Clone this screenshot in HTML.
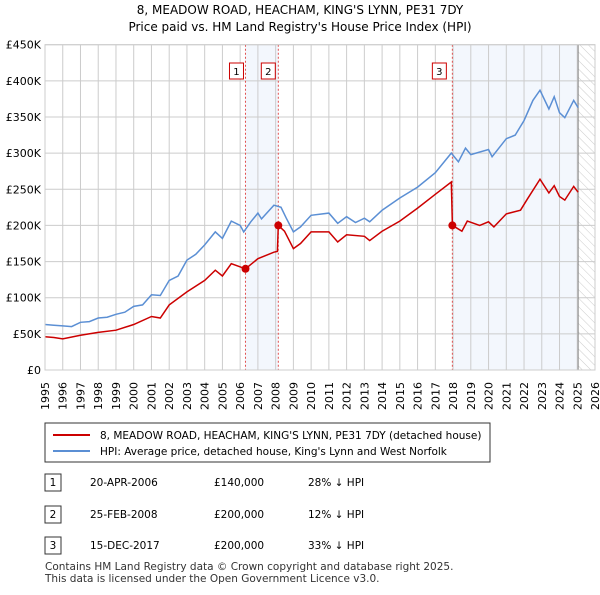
<!DOCTYPE html>
<html><head><meta charset="utf-8"><style>
body{margin:0;background:#fff;font-family:"Liberation Sans","DejaVu Sans",sans-serif;}
svg text{font-family:"DejaVu Sans","Liberation Sans",sans-serif;}
</style></head><body>
<svg id="c" width="600" height="590" viewBox="0 0 600 590">
<defs><pattern id="hatch" width="6" height="6" patternUnits="userSpaceOnUse" patternTransform="rotate(-45)"><line x1="0" y1="0" x2="0" y2="6" stroke="#ccc" stroke-width="1"/></pattern></defs>
<text x="300" y="14" text-anchor="middle" font-size="12">8, MEADOW ROAD, HEACHAM, KING'S LYNN, PE31 7DY</text>
<text x="300" y="31" text-anchor="middle" font-size="12">Price paid vs. HM Land Registry's House Price Index (HPI)</text>
<g id="plot"></g>
<g>
<rect x="45" y="423" width="445" height="39" fill="#fff" stroke="#333"/>
<line x1="53" y1="435" x2="90" y2="435" stroke="#cc0000" stroke-width="2"/>
<text x="100" y="439" font-size="10.5">8, MEADOW ROAD, HEACHAM, KING'S LYNN, PE31 7DY (detached house)</text>
<line x1="53" y1="451" x2="90" y2="451" stroke="#5b8fd4" stroke-width="2"/>
<text x="100" y="455" font-size="10.5">HPI: Average price, detached house, King's Lynn and West Norfolk</text>
</g>
<g font-size="10.5">
<rect x="45" y="474" width="16" height="17" fill="#fff" stroke="#333"/><text x="53" y="486" text-anchor="middle">1</text>
<text x="90" y="486">20-APR-2006</text><text x="214" y="486">£140,000</text><text x="308" y="486">28% ↓ HPI</text>
<rect x="45" y="506" width="16" height="17" fill="#fff" stroke="#333"/><text x="53" y="518" text-anchor="middle">2</text>
<text x="90" y="518">25-FEB-2008</text><text x="214" y="518">£200,000</text><text x="308" y="518">12% ↓ HPI</text>
<rect x="45" y="537" width="16" height="17" fill="#fff" stroke="#333"/><text x="53" y="549" text-anchor="middle">3</text>
<text x="90" y="549">15-DEC-2017</text><text x="214" y="549">£200,000</text><text x="308" y="549">33% ↓ HPI</text>
</g>
<text x="45" y="570" font-size="10.5" fill="#333">Contains HM Land Registry data © Crown copyright and database right 2025.</text>
<text x="45" y="582" font-size="10.5" fill="#333">This data is licensed under the Open Government Licence v3.0.</text>
</svg>
<script>
const hpiYears=[1995,1995.5,1996,1996.5,1997,1997.5,1998,1998.5,1999,1999.5,2000,2000.5,2001,2001.5,2002,2002.5,2003,2003.5,2004,2004.6,2005,2005.5,2006,2006.2,2006.6,2007,2007.2,2007.9,2008.3,2008.6,2009,2009.4,2010,2011,2011.5,2012,2012.5,2013,2013.3,2014,2015,2016,2017,2017.9,2018.3,2018.7,2019,2020,2020.2,2021,2021.5,2022,2022.5,2022.9,2023.4,2023.7,2024,2024.3,2024.8,2025.05];
const hpiValues=[63,62,61,60,66,67,72,73,77,80,88,90,104,103,124,130,152,160,173,191,182,206,200,191,205,217,209,228,225,210,191,198,214,217,203,212,204,210,205,221,238,253,273,300,288,307,298,305,295,320,325,345,373,387,361,378,356,349,373,363];
const ppYears=[1995,1995.5,1996,1997,1998,1999,2000,2001,2001.5,2002,2003,2004,2004.6,2005,2005.5,2006.3,2007,2007.9,2008.1,2008.15,2008.5,2009,2009.4,2010,2011,2011.5,2012,2013,2013.3,2014,2015,2016,2017,2017.9,2017.96,2018.5,2018.8,2019.5,2020,2020.3,2021,2021.8,2022.2,2022.9,2023.4,2023.7,2024,2024.3,2024.8,2025.05];
const ppValues=[46,45,43,48,52,55,63,74,72,90,108,124,138,130,147,140,154,163,164,200,192,168,175,191,191,177,187,185,179,192,206,224,243,260,200,192,206,200,205,198,216,221,237,264,245,255,240,235,254,246];
const saleYears=[2006.3,2008.15,2017.96];
const saleValues=[140,200,200];
const saleLabels=["1","2","3"];
const yTicks=[0,50,100,150,200,250,300,350,400,450];
const yTickLabels=["£0","£50K","£100K","£150K","£200K","£250K","£300K","£350K","£400K","£450K"];
const xTicks=[1995,1996,1997,1998,1999,2000,2001,2002,2003,2004,2005,2006,2007,2008,2009,2010,2011,2012,2013,2014,2015,2016,2017,2018,2019,2020,2021,2022,2023,2024,2025,2026];
const X0=45,X1=595,Y0=370,Y1=44.7;
const xs=y=>X0+(y-1995)/(2026-1995)*(X1-X0);
const ys=v=>Y0-v/450*(Y0-Y1);
const NS="http://www.w3.org/2000/svg";
const g=document.getElementById('plot');
function mk(t,a,p){const e=document.createElementNS(NS,t);for(const k in a)e.setAttribute(k,a[k]);(p||g).appendChild(e);return e;}
let e;
e=mk('rect',{x:xs(saleYears[0]),y:Y1,width:xs(saleYears[1])-xs(saleYears[0]),height:Y0-Y1,fill:'#eef3fc',opacity:0.7});


e=mk('rect',{x:xs(saleYears[2]),y:Y1,width:xs(2025.05)-xs(saleYears[2]),height:Y0-Y1,fill:'#eef3fc',opacity:0.7});


e=mk('rect',{x:xs(2025.05),y:Y1,width:X1-xs(2025.05),height:Y0-Y1,fill:'url(#hatch)'});


yTicks.forEach((v,i)=>{
 e=mk('line',{x1:X0,x2:X1,y1:ys(v),y2:ys(v),stroke:'#ccc','stroke-width':1});
 
 
 e=mk('text',{x:X0-4,y:ys(v)+4,'text-anchor':'end','font-size':11});
 e.textContent=yTickLabels[i];
 
 
});
xTicks.forEach(y=>{
 e=mk('line',{x1:xs(y),x2:xs(y),y1:Y1,y2:Y0,stroke:'#ccc','stroke-width':1});
 
 
 const tx=xs(y)+4, ty=Y0+12;
 e=mk('text',{x:tx,y:ty,'text-anchor':'end','font-size':11,transform:'rotate(-90 '+tx+' '+ty+')'});
 e.textContent=y;
 
 
});
e=mk('line',{x1:xs(2025.05),x2:xs(2025.05),y1:Y1,y2:Y0,stroke:'#888','stroke-width':1});


saleYears.forEach((y,i)=>{
 e=mk('line',{x1:xs(y),x2:xs(y),y1:Y1,y2:Y0,stroke:'#e05050','stroke-width':1,'stroke-dasharray':'2,2'});
 
 
});
const path=(xa,va)=>xa.map((y,i)=>(i?'L':'M')+xs(y).toFixed(1)+','+ys(va[i]).toFixed(1)).join('');
e=mk('path',{d:path(hpiYears,hpiValues),fill:'none',stroke:'#5b8fd4','stroke-width':1.5});


e=mk('path',{d:path(ppYears,ppValues),fill:'none',stroke:'#cc0000','stroke-width':1.5});


saleYears.forEach((y,i)=>{
 e=mk('circle',{cx:xs(y),cy:ys(saleValues[i]),r:4,fill:'#cc0000'});
 
 
 e=mk('rect',{x:xs(y)-17+ (i==2?-3:0)+ (i==0?1:0),y:63,width:14,height:16,fill:'#fff',stroke:'#cc0000'});
 
 
 e=mk('text',{x:xs(y)-10+(i==2?-3:0)+(i==0?1:0),y:75,'text-anchor':'middle','font-size':10});
 e.textContent=saleLabels[i];
 
 
});
e=mk('rect',{x:X0,y:Y1,width:X1-X0,height:Y0-Y1,fill:'none',stroke:'#ccc'});


</script>
</body></html>
